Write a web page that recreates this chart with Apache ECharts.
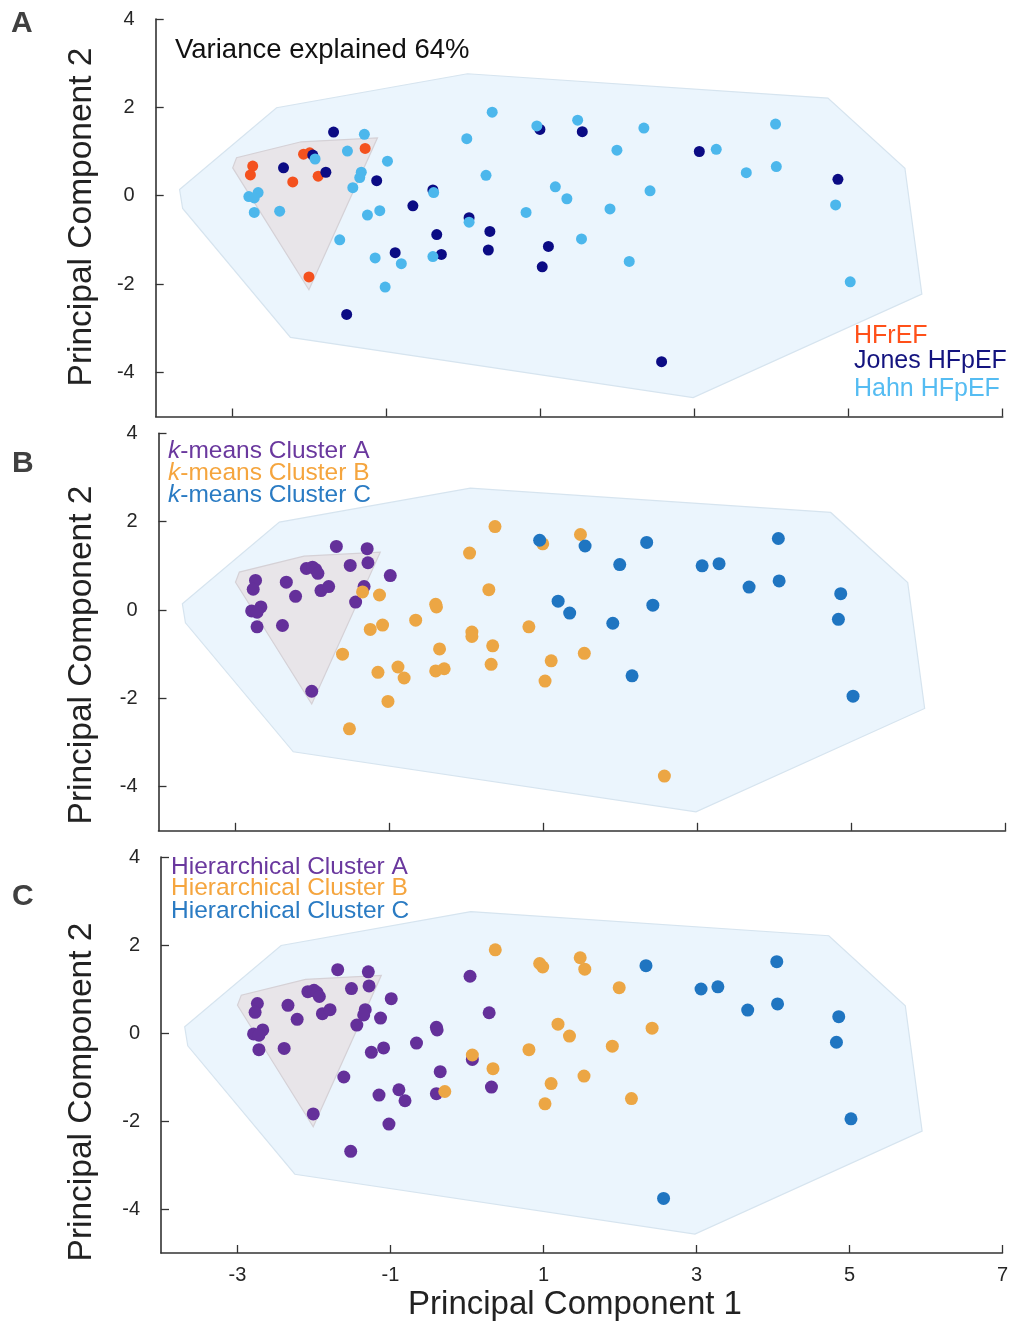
<!DOCTYPE html>
<html><head><meta charset="utf-8">
<script src="https://cdn.jsdelivr.net/npm/echarts@6/dist/echarts.min.js"></script>
<style>html,body{margin:0;padding:0;background:#fff}#c{width:1011px;height:1325px}</style>
</head><body><div id="c"></div>
<script>
// ---------- DATA ----------
const xTicks = [-3, -1, 1, 3, 5, 7];
const yTicks = [-4, -2, 0, 2, 4];

// overall convex hull (all subjects)
const hullPC1 = [-3.69, -3.65, -2.25, 2.98, 5.95, 5.73, 4.73, 0.05, -2.43];
const hullPC2 = [0.14, -0.29, -3.21, -4.57, -2.23, 0.62, 2.21, 2.76, 1.99];
// HFrEF convex hull
const hfrefHullPC1 = [-3.00, -2.95, -2.11, -1.12, -2.01];
const hfrefHullPC2 = [0.63, 0.86, 1.22, 1.31, -2.13];

const hfrefPC1 = [-1.28, -2.08, -2.00, -2.74, -2.77, -2.22, -1.89, -2.01];
const hfrefPC2 = [1.07, 0.94, 0.97, 0.67, 0.47, 0.31, 0.44, -1.84];
const hfrefKmeans = ['A','A','A','A','A','A','A','A'];
const hfrefHier   = ['A','A','A','A','A','A','A','A'];

const jonesPC1 = [-1.69, -1.96, -2.34, -1.79, -1.13, -0.66, -0.40, -0.35, -0.89, -0.29, -1.52, 0.99, 1.54, 3.06, 0.07, 0.34, 0.32, 1.10, 1.02, 2.57, 4.86];
const jonesPC2 = [1.44, 0.92, 0.63, 0.53, 0.34, -0.23, 0.13, -0.88, -1.29, -1.33, -2.69, 1.50, 1.45, 1.00, -0.50, -0.81, -1.23, -1.15, -1.61, -3.76, 0.37];
const jonesKmeans = ['A','A','A','A','B','B','B','B','B','B','B','B','C','C','B','B','B','B','B','B','C'];
const jonesHier   = ['A','A','A','A','A','A','A','A','A','B','A','B','B','C','B','B','A','B','B','C','C'];

const hahnPC1 = [-1.29, -1.51, -1.93, -0.99, -1.33, -1.35, -1.44, -2.79, -2.67, -2.72, -2.72, -2.39, -0.39, -1.25, -1.09, -1.61, -1.15, -0.81, -0.40, -1.02, 0.37, 0.95, 1.48, 2.34, 0.04, 1.99, 3.28, 0.29, 1.19, 1.34, 2.42, 0.07, 0.81, 1.90, 1.53, 2.15, 4.05, 3.67, 4.06, 4.83, 5.02];
const hahnPC2 = [1.39, 1.01, 0.83, 0.78, 0.53, 0.41, 0.18, -0.02, 0.07, -0.05, -0.38, -0.35, 0.07, -0.44, -0.34, -1.00, -1.41, -1.54, -1.38, -2.07, 1.89, 1.58, 1.71, 1.53, 1.29, 1.03, 1.05, 0.46, 0.20, -0.07, 0.11, -0.60, -0.38, -0.30, -0.98, -1.49, 1.62, 0.52, 0.66, -0.21, -1.95];
const hahnKmeans = ['A','A','A','A','A','B','A','A','A','A','A','A','B','B','B','B','B','B','B','B','B','C','B','C','B','C','C','B','C','C','C','B','B','C','B','C','C','C','C','C','C'];
const hahnHier   = ['A','A','A','A','A','A','A','A','A','A','A','A','A','A','A','A','A','A','A','A','B','B','B','C','A','B','C','A','B','B','B','A','B','B','B','B','C','C','C','C','C'];

const cohortNames = ['HFrEF', 'Jones HFpEF', 'Hahn HFpEF'];
const clusterIds = ['A', 'B', 'C'];

// ---------- STYLE ----------
const FONT = "'Liberation Sans', Arial, sans-serif";
const cohortColors = ['#f4511e', '#0b0b84', '#4cb7ec'];
const cohortText = ['#ff5019', '#14147f', '#55bcf2'];
const clusterColors = ['#64309a', '#eca644', '#1f75c1'];
const clusterText = ['#6a389e', '#f5a53e', '#2a7bc3'];
const grids = [
  {left: 155.7, top: 19, width: 847, height: 397.5},
  {left: 158.5, top: 433.4, width: 847, height: 397.4},
  {left: 161, top: 857, width: 845, height: 396}
];

const allPC1 = hfrefPC1.concat(jonesPC1, hahnPC1);
const allPC2 = hfrefPC2.concat(jonesPC2, hahnPC2);
const allKmeans = hfrefKmeans.concat(jonesKmeans, hahnKmeans);
const allHier = hfrefHier.concat(jonesHier, hahnHier);

function hullSeries(i, xs, ys, fill, stroke, z) {
  return {
    type: 'custom', xAxisIndex: i, yAxisIndex: i, z: z, silent: true,
    data: xs.map((x, k) => [x, ys[k]]),
    encode: {x: 0, y: 1},
    renderItem: (params, api) => {
      if (params.dataIndex !== 0) return {type: 'group', children: []};
      const pts = xs.map((x, k) => api.coord([x, ys[k]]));
      return {type: 'polygon', shape: {points: pts}, style: {fill: fill, stroke: stroke, lineWidth: 1.2}};
    }
  };
}

const series = [];
for (let i = 0; i < 3; i++) {
  series.push(hullSeries(i, hullPC1, hullPC2, '#ebf5fd', '#d6e4ef', 1));
  series.push(hullSeries(i, hfrefHullPC1, hfrefHullPC2, '#e8e5e9', '#d5d1d6', 2));
}
// Panel A: by cohort
[[hfrefPC1, hfrefPC2], [jonesPC1, jonesPC2], [hahnPC1, hahnPC2]].forEach((c, k) => {
  series.push({
    type: 'scatter', name: cohortNames[k], xAxisIndex: 0, yAxisIndex: 0, z: 5,
    symbolSize: 11, itemStyle: {color: cohortColors[k], opacity: 1},
    data: c[0].map((x, j) => [x, c[1][j]])
  });
});
// Panels B, C: by cluster
[allKmeans, allHier].forEach((labels, p) => {
  clusterIds.forEach((cid, k) => {
    const d = [];
    labels.forEach((l, j) => { if (l === cid) d.push([allPC1[j], allPC2[j]]); });
    series.push({
      type: 'scatter', xAxisIndex: p + 1, yAxisIndex: p + 1, z: 5,
      symbolSize: 13, itemStyle: {color: clusterColors[k], opacity: 1},
      data: d
    });
  });
});

const axisLine = {onZero: false, lineStyle: {color: '#333', width: 1.6}};
const tickStyle = {color: '#333', width: 1.3};

function txt(x, y, text, size, color, extra) {
  return {
    type: 'text', x: x, y: y, silent: true,
    style: Object.assign({text: text, fontSize: size, fontFamily: FONT, fill: color, align: 'left', verticalAlign: 'middle'}, extra || {})
  };
}
function richTxt(x, y, pre, rest, color) {
  return {
    type: 'text', x: x, y: y, silent: true,
    style: {
      text: '{i|' + pre + '}{n|' + rest + '}', fill: color, fontSize: 24.5, fontFamily: FONT,
      align: 'left', verticalAlign: 'middle',
      rich: {
        i: {fontStyle: 'italic', fontSize: 24.5, fontFamily: FONT, fill: color},
        n: {fontSize: 24.5, fontFamily: FONT, fill: color}
      }
    }
  };
}

const graphics = [
  txt(11, 24, 'A', 30, '#404040', {fontWeight: 'bold'}),
  txt(12, 464, 'B', 30, '#404040', {fontWeight: 'bold'}),
  txt(12, 897, 'C', 30, '#404040', {fontWeight: 'bold'}),
  txt(175, 50, 'Variance explained 64%', 27.5, '#111'),
  txt(854, 336, cohortNames[0], 25, cohortText[0]),
  txt(854, 361, cohortNames[1], 25, cohortText[1]),
  txt(854, 389, cohortNames[2], 25, cohortText[2]),
  richTxt(168, 451, 'k', '-means Cluster A', clusterText[0]),
  richTxt(168, 473, 'k', '-means Cluster B', clusterText[1]),
  richTxt(168, 495.5, 'k', '-means Cluster C', clusterText[2]),
  txt(171, 867, 'Hierarchical Cluster A', 24.5, clusterText[0]),
  txt(171, 888, 'Hierarchical Cluster B', 24.5, clusterText[1]),
  txt(171, 911, 'Hierarchical Cluster C', 24.5, clusterText[2]),
  txt(82, 217, 'Principal Component 2', 33.5, '#222', {align: 'center'}),
  txt(82, 655, 'Principal Component 2', 33.5, '#222', {align: 'center'}),
  txt(82, 1092, 'Principal Component 2', 33.5, '#222', {align: 'center'}),
  txt(575, 1305, 'Principal Component 1', 33, '#222', {align: 'center'})
];
// rotate y titles
[13, 14, 15].forEach(k => { graphics[k].rotation = Math.PI / 2; });

const option = {
  animation: false,
  backgroundColor: '#fff',
  grid: grids.map(g => Object.assign({containLabel: false}, g)),
  xAxis: grids.map((g, i) => ({
    gridIndex: i, type: 'value', min: -4, max: 7,
    axisLine: axisLine,
    axisTick: {show: true, inside: true, length: 8, customValues: xTicks, lineStyle: tickStyle},
    axisLabel: {show: i === 2, customValues: xTicks, margin: 12, fontSize: 20, color: '#262626', fontFamily: FONT},
    splitLine: {show: false}
  })),
  yAxis: grids.map((g, i) => ({
    gridIndex: i, type: 'value', min: -5, max: 4,
    axisLine: axisLine,
    axisTick: {show: true, inside: true, length: 8, customValues: yTicks, lineStyle: tickStyle},
    axisLabel: {show: true, customValues: yTicks, margin: 21, fontSize: 20, color: '#262626', fontFamily: FONT},
    splitLine: {show: false}
  })),
  series: series,
  graphic: graphics
};

const chart = echarts.init(document.getElementById('c'), null, {renderer: 'canvas'});
chart.setOption(option);
</script>
</body></html>
